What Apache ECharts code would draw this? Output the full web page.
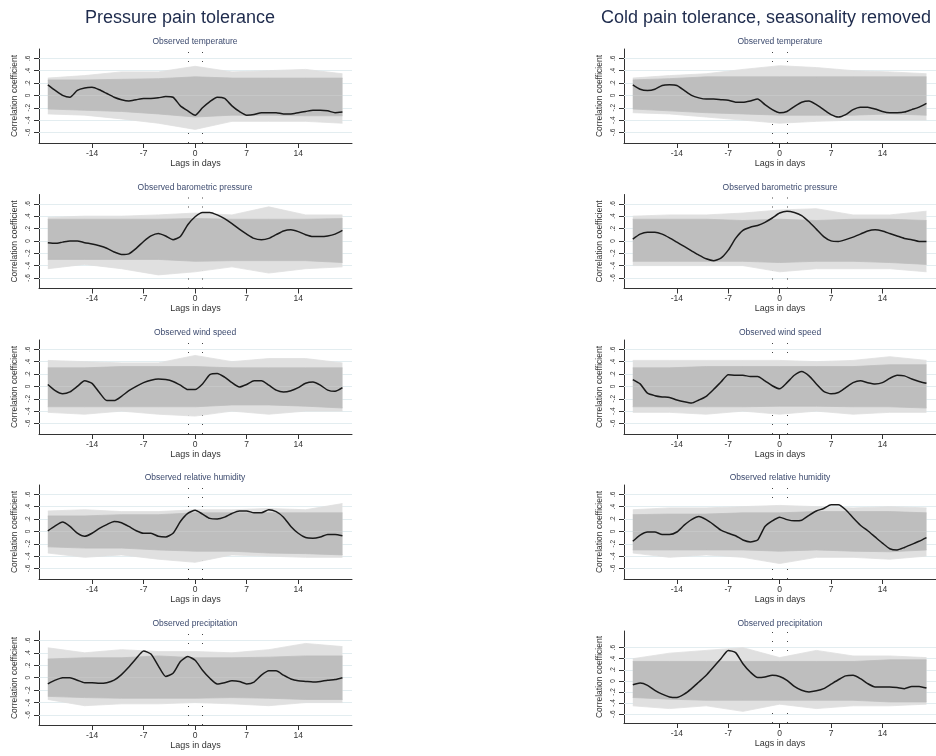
<!DOCTYPE html>
<html>
<head>
<meta charset="utf-8">
<script src="https://cdn.jsdelivr.net/npm/echarts@6/dist/echarts.min.js"></script>
<style>
  html, body { margin: 0; padding: 0; background: #fff; }
  #chart { width: 936px; height: 756px; }
</style>
</head>
<body>
<div id="chart"></div>
<script>
var lags = [-20, -19, -18, -17, -16, -15, -14, -13, -12, -11, -10, -9, -8, -7, -6, -5, -4, -3, -2, -1,
  0, 1, 2, 3, 4, 5, 6, 7, 8, 9, 10, 11, 12, 13, 14, 15, 16, 17, 18, 19, 20]
var knots = [-20, -15, -10, -5, 0, 5, 10, 15, 20]
var xTicks = [-14, -7, 0, 7, 14]
var yTicks = [-0.6, -0.4, -0.2, 0, 0.2, 0.4, 0.6]
var refLags = [-1, 1]

var columnTitles = ['Pressure pain tolerance', 'Cold pain tolerance, seasonality removed']
var panelTitles = ['Observed temperature', 'Observed barometric pressure', 'Observed wind speed',
  'Observed relative humidity', 'Observed precipitation']

// observed correlations, pressure pain tolerance
var pressTemp = [0.17, 0.08, 0, -0.03, 0.08, 0.12, 0.13, 0.09, 0.03, -0.03,
  -0.07, -0.09, -0.07, -0.05, -0.05, -0.04, -0.02, -0.03, -0.17, -0.25,
  -0.32, -0.2, -0.1, -0.03, -0.05, -0.17, -0.26, -0.32, -0.31, -0.28,
  -0.28, -0.28, -0.3, -0.3, -0.28, -0.26, -0.24, -0.24, -0.25, -0.28, -0.27]
var pressBaro = [-0.03, -0.04, -0.02, 0, 0, -0.03, -0.05, -0.08, -0.12, -0.18,
  -0.22, -0.21, -0.12, -0.01, 0.08, 0.12, 0.08, 0.02, 0.07, 0.26,
  0.39, 0.46, 0.46, 0.42, 0.36, 0.28, 0.19, 0.11, 0.04, 0.02,
  0.04, 0.1, 0.16, 0.18, 0.15, 0.1, 0.07, 0.07, 0.08, 0.11, 0.17]
var pressWind = [0.03, -0.07, -0.12, -0.09, 0, 0.09, 0.05, -0.1, -0.23, -0.23,
  -0.16, -0.07, 0, 0.06, 0.1, 0.12, 0.11, 0.08, 0.02, -0.05,
  -0.05, 0.04, 0.19, 0.21, 0.15, 0.06, -0.01, 0.03, 0.09, 0.09,
  0.02, -0.06, -0.09, -0.07, -0.02, 0.05, 0.07, 0.02, -0.06, -0.08, -0.02]
var pressHumid = [0.01, 0.09, 0.15, 0.08, -0.03, -0.08, -0.03, 0.05, 0.11, 0.16,
  0.14, 0.08, 0.01, -0.03, -0.03, -0.08, -0.09, -0.03, 0.16, 0.29,
  0.34, 0.28, 0.21, 0.2, 0.23, 0.29, 0.33, 0.33, 0.3, 0.3,
  0.35, 0.32, 0.23, 0.08, -0.03, -0.1, -0.11, -0.09, -0.05, -0.05, -0.07]
var pressPrecip = [-0.1, -0.04, 0, 0, -0.04, -0.08, -0.08, -0.09, -0.08, -0.04,
  0.05, 0.17, 0.31, 0.43, 0.38, 0.19, 0.02, 0.07, 0.26, 0.34,
  0.28, 0.12, -0.01, -0.1, -0.08, -0.05, -0.06, -0.1, -0.07, 0.04,
  0.11, 0.11, 0.04, -0.02, -0.05, -0.06, -0.07, -0.06, -0.04, -0.03, 0]

// observed correlations, cold pain tolerance
var coldTemp = [0.17, 0.1, 0.08, 0.1, 0.16, 0.17, 0.16, 0.08, 0, -0.04,
  -0.06, -0.06, -0.07, -0.08, -0.11, -0.11, -0.09, -0.06, -0.15, -0.23,
  -0.28, -0.26, -0.18, -0.11, -0.09, -0.15, -0.23, -0.31, -0.35, -0.31,
  -0.23, -0.19, -0.19, -0.22, -0.26, -0.28, -0.28, -0.27, -0.23, -0.19, -0.13]
var coldBaro = [0.03, 0.11, 0.14, 0.14, 0.11, 0.05, -0.02, -0.09, -0.16, -0.23,
  -0.29, -0.32, -0.28, -0.15, 0.04, 0.17, 0.22, 0.25, 0.3, 0.37,
  0.45, 0.48, 0.46, 0.41, 0.31, 0.19, 0.07, 0, -0.01, 0.02,
  0.06, 0.11, 0.16, 0.18, 0.16, 0.12, 0.08, 0.04, 0.02, -0.01, -0.01]
var coldWind = [0.11, 0.04, -0.11, -0.15, -0.17, -0.18, -0.22, -0.25, -0.27, -0.22,
  -0.16, -0.05, 0.07, 0.19, 0.18, 0.18, 0.16, 0.16, 0.09, 0.01,
  -0.04, 0.06, 0.18, 0.24, 0.17, 0.04, -0.08, -0.12, -0.1, -0.02,
  0.06, 0.09, 0.06, 0.04, 0.06, 0.13, 0.18, 0.17, 0.12, 0.08, 0.05]
var coldHumid = [-0.16, -0.06, -0.01, -0.01, -0.05, -0.05, -0.01, 0.1, 0.19, 0.24,
  0.19, 0.11, 0.02, -0.03, -0.07, -0.14, -0.17, -0.14, 0.08, 0.17,
  0.23, 0.19, 0.17, 0.18, 0.26, 0.33, 0.37, 0.43, 0.43, 0.35,
  0.22, 0.1, 0.01, -0.09, -0.19, -0.28, -0.3, -0.26, -0.21, -0.16, -0.1]
var coldPrecip = [-0.07, -0.04, -0.08, -0.17, -0.24, -0.29, -0.3, -0.24, -0.14, -0.02,
  0.1, 0.25, 0.4, 0.55, 0.51, 0.31, 0.16, 0.06, 0.07, 0.1,
  0.08, 0.01, -0.1, -0.17, -0.2, -0.18, -0.14, -0.06, 0.02, 0.09,
  0.1, 0.04, -0.05, -0.11, -0.11, -0.11, -0.12, -0.14, -0.1, -0.1, -0.13]

// permuted correlations: dense core (hi/lo) and outer sparse lines (hi/lo), at knots
var pressTempCoreHi = [0.25, 0.25, 0.26, 0.27, 0.3, 0.28, 0.28, 0.28, 0.28]
var pressTempCoreLo = [-0.22, -0.24, -0.26, -0.3, -0.35, -0.32, -0.32, -0.33, -0.33]
var pressTempOuterHi = [0.28, 0.32, 0.38, 0.38, 0.47, 0.38, 0.4, 0.42, 0.35]
var pressTempOuterLo = [-0.3, -0.32, -0.38, -0.45, -0.55, -0.42, -0.42, -0.42, -0.45]
var pressBaroCoreHi = [0.35, 0.35, 0.35, 0.35, 0.36, 0.35, 0.35, 0.35, 0.36]
var pressBaroCoreLo = [-0.3, -0.3, -0.3, -0.3, -0.33, -0.32, -0.32, -0.32, -0.35]
var pressBaroOuterHi = [0.38, 0.4, 0.4, 0.42, 0.45, 0.42, 0.55, 0.42, 0.42]
var pressBaroOuterLo = [-0.45, -0.38, -0.45, -0.55, -0.5, -0.42, -0.52, -0.45, -0.42]
var pressWindCoreHi = [0.3, 0.3, 0.32, 0.32, 0.32, 0.3, 0.3, 0.3, 0.3]
var pressWindCoreLo = [-0.33, -0.33, -0.33, -0.33, -0.33, -0.3, -0.3, -0.32, -0.35]
var pressWindOuterHi = [0.42, 0.4, 0.38, 0.38, 0.5, 0.4, 0.45, 0.45, 0.38]
var pressWindOuterLo = [-0.42, -0.45, -0.4, -0.45, -0.48, -0.4, -0.45, -0.4, -0.4]
var pressHumidCoreHi = [0.25, 0.25, 0.27, 0.27, 0.3, 0.3, 0.3, 0.3, 0.3]
var pressHumidCoreLo = [-0.25, -0.27, -0.27, -0.3, -0.32, -0.32, -0.35, -0.36, -0.38]
var pressHumidOuterHi = [0.33, 0.35, 0.32, 0.32, 0.35, 0.35, 0.37, 0.35, 0.45]
var pressHumidOuterLo = [-0.35, -0.42, -0.38, -0.45, -0.5, -0.38, -0.4, -0.42, -0.42]
var pressPrecipCoreHi = [0.3, 0.32, 0.32, 0.35, 0.32, 0.32, 0.33, 0.35, 0.35]
var pressPrecipCoreLo = [-0.3, -0.32, -0.33, -0.33, -0.33, -0.32, -0.33, -0.35, -0.35]
var pressPrecipOuterHi = [0.48, 0.4, 0.45, 0.42, 0.42, 0.4, 0.45, 0.55, 0.5]
var pressPrecipOuterLo = [-0.35, -0.45, -0.42, -0.42, -0.4, -0.42, -0.45, -0.4, -0.4]
var coldTempCoreHi = [0.25, 0.27, 0.3, 0.3, 0.3, 0.3, 0.3, 0.3, 0.3]
var coldTempCoreLo = [-0.22, -0.25, -0.28, -0.3, -0.32, -0.32, -0.32, -0.3, -0.32]
var coldTempOuterHi = [0.28, 0.32, 0.35, 0.42, 0.48, 0.45, 0.4, 0.38, 0.35]
var coldTempOuterLo = [-0.28, -0.3, -0.35, -0.4, -0.45, -0.42, -0.4, -0.4, -0.4]
var coldBaroCoreHi = [0.35, 0.35, 0.35, 0.33, 0.35, 0.33, 0.35, 0.35, 0.33]
var coldBaroCoreLo = [-0.33, -0.33, -0.33, -0.33, -0.35, -0.33, -0.33, -0.35, -0.38]
var coldBaroOuterHi = [0.4, 0.42, 0.42, 0.45, 0.5, 0.52, 0.42, 0.42, 0.48]
var coldBaroOuterLo = [-0.4, -0.4, -0.4, -0.4, -0.5, -0.45, -0.45, -0.45, -0.5]
var coldWindCoreHi = [0.3, 0.3, 0.32, 0.32, 0.32, 0.32, 0.32, 0.35, 0.35]
var coldWindCoreLo = [-0.33, -0.33, -0.33, -0.33, -0.32, -0.32, -0.33, -0.33, -0.35]
var coldWindOuterHi = [0.42, 0.42, 0.42, 0.42, 0.42, 0.4, 0.42, 0.48, 0.42]
var coldWindOuterLo = [-0.42, -0.42, -0.45, -0.4, -0.45, -0.4, -0.45, -0.42, -0.42]
var coldHumidCoreHi = [0.27, 0.28, 0.28, 0.3, 0.3, 0.32, 0.32, 0.32, 0.3]
var coldHumidCoreLo = [-0.3, -0.3, -0.3, -0.3, -0.32, -0.3, -0.32, -0.33, -0.3]
var coldHumidOuterHi = [0.35, 0.38, 0.38, 0.4, 0.42, 0.4, 0.38, 0.4, 0.38]
var coldHumidOuterLo = [-0.35, -0.42, -0.38, -0.42, -0.52, -0.42, -0.42, -0.45, -0.4]
var coldPrecipCoreHi = [0.35, 0.35, 0.35, 0.35, 0.35, 0.35, 0.35, 0.38, 0.38]
var coldPrecipCoreLo = [-0.3, -0.33, -0.35, -0.35, -0.35, -0.35, -0.35, -0.38, -0.38]
var coldPrecipOuterHi = [0.4, 0.5, 0.55, 0.6, 0.42, 0.55, 0.45, 0.45, 0.42]
var coldPrecipOuterLo = [-0.45, -0.5, -0.45, -0.55, -0.42, -0.5, -0.45, -0.45, -0.42]

// y range per row (last right panel stretches for a tall permuted line)
var yMin = [-0.77, -0.77, -0.77, -0.77, -0.76]
var yMax = [0.75, 0.75, 0.75, 0.75, 0.75]
var coldPrecipMin = -0.76
var coldPrecipMax = 0.9

var panels = [
  [pressTemp, pressTempCoreHi, pressTempCoreLo, pressTempOuterHi, pressTempOuterLo],
  [pressBaro, pressBaroCoreHi, pressBaroCoreLo, pressBaroOuterHi, pressBaroOuterLo],
  [pressWind, pressWindCoreHi, pressWindCoreLo, pressWindOuterHi, pressWindOuterLo],
  [pressHumid, pressHumidCoreHi, pressHumidCoreLo, pressHumidOuterHi, pressHumidOuterLo],
  [pressPrecip, pressPrecipCoreHi, pressPrecipCoreLo, pressPrecipOuterHi, pressPrecipOuterLo],
  [coldTemp, coldTempCoreHi, coldTempCoreLo, coldTempOuterHi, coldTempOuterLo],
  [coldBaro, coldBaroCoreHi, coldBaroCoreLo, coldBaroOuterHi, coldBaroOuterLo],
  [coldWind, coldWindCoreHi, coldWindCoreLo, coldWindOuterHi, coldWindOuterLo],
  [coldHumid, coldHumidCoreHi, coldHumidCoreLo, coldHumidOuterHi, coldHumidOuterLo],
  [coldPrecip, coldPrecipCoreHi, coldPrecipCoreLo, coldPrecipOuterHi, coldPrecipOuterLo]
]

var FONT = 'Liberation Sans, Arial, sans-serif'
var colLeft = [39, 624]
var colWidth = [313, 312]
var colCenter = [195, 780]
var rowTop = [49, 194.5, 340, 485, 631]
var rowHeight = 94

function tickFmt (v) {
  if (Math.abs(v) < 1e-9) return '0'
  var s = Math.abs(v).toFixed(1).replace(/^0/, '')
  return v < 0 ? '-' + s : s
}

function pairs (xs, ys) {
  return xs.map(function (x, k) { return [x, ys[k]] })
}

var grids = []
var xAxes = []
var yAxes = []
var series = []
var graphics = []

columnTitles.forEach(function (t, c) {
  graphics.push({
    type: 'text',
    x: c === 0 ? 180 : 766,
    y: 18,
    style: {
      text: t, fill: '#1e2b4d', font: '18px ' + FONT,
      align: 'center', verticalAlign: 'middle', textAlign: 'center', textVerticalAlign: 'middle'
    }
  })
})

panels.forEach(function (p, i) {
  var c = i < 5 ? 0 : 1
  var r = i % 5
  var lo = yMin[r]
  var hi = yMax[r]
  var top = rowTop[r]
  var h = rowHeight
  if (i === 9) { lo = coldPrecipMin; hi = coldPrecipMax; h = 92 }

  grids.push({ left: colLeft[c], top: top, width: colWidth[c], height: h })

  xAxes.push({
    type: 'value', gridIndex: i, min: -21.2, max: 21.3,
    axisLine: { onZero: false, lineStyle: { color: '#333', width: 1 } },
    axisTick: { show: true, length: 5, customValues: xTicks, lineStyle: { color: '#333' } },
    axisLabel: { customValues: xTicks, fontSize: 8.5, color: '#333', margin: 6, fontFamily: FONT },
    splitLine: { show: false },
    name: 'Lags in days', nameLocation: 'middle', nameGap: 14,
    nameTextStyle: { fontSize: 9, color: '#333', fontFamily: FONT }
  })

  yAxes.push({
    type: 'value', gridIndex: i, min: lo, max: hi,
    axisLine: { onZero: false, lineStyle: { color: '#333', width: 1 } },
    axisTick: { show: true, length: 5, customValues: yTicks, lineStyle: { color: '#333' } },
    axisLabel: { customValues: yTicks, rotate: 90, fontSize: 6.5, color: '#333', margin: 7,
      fontFamily: FONT, formatter: tickFmt },
    splitLine: { show: false },
    name: 'Correlation coefficient', nameLocation: 'middle', nameGap: 20,
    nameTextStyle: { fontSize: 8.5, color: '#333', fontFamily: FONT }
  })

  graphics.push({
    type: 'text',
    x: colCenter[c],
    y: top - 7,
    style: {
      text: panelTitles[r], fill: '#3c4a6e', font: '8.5px ' + FONT,
      align: 'center', verticalAlign: 'middle', textAlign: 'center', textVerticalAlign: 'middle'
    }
  })

  var band = function (vals, color, z) {
    return {
      type: 'line', xAxisIndex: i, yAxisIndex: i, data: pairs(knots, vals),
      showSymbol: false, silent: true, z: z,
      lineStyle: { width: 0.8, color: color },
      areaStyle: { color: color, opacity: 1 }
    }
  }

  var outerHi = band(p[3], '#e0e0e0', 2)
  // pale grid lines and the +/-1 day dotted markers sit behind the permuted band
  outerHi.markLine = {
    silent: true, symbol: 'none', z: 1, animation: false,
    label: { show: false },
    data: yTicks.map(function (v) {
      return { yAxis: v, lineStyle: { color: '#e3edf0', width: 1, type: 'solid' } }
    }).concat(refLags.map(function (v) {
      return { xAxis: v, lineStyle: { color: '#444', width: 1, type: [1, 8] } }
    }))
  }
  series.push(outerHi)
  series.push(band(p[4], '#e0e0e0', 2))
  series.push(band(p[1], '#bebebe', 3))
  series.push(band(p[2], '#bebebe', 3))

  series.push({
    type: 'line', xAxisIndex: i, yAxisIndex: i, data: pairs(lags, p[0]),
    showSymbol: false, smooth: 0.2, z: 5,
    lineStyle: { color: '#1a1a1a', width: 1.5 }
  })
})

var chart = echarts.init(document.getElementById('chart'))
chart.setOption({
  backgroundColor: '#fff',
  animation: false,
  textStyle: { fontFamily: FONT },
  grid: grids,
  xAxis: xAxes,
  yAxis: yAxes,
  series: series,
  graphic: graphics
})
</script>
</body>
</html>
